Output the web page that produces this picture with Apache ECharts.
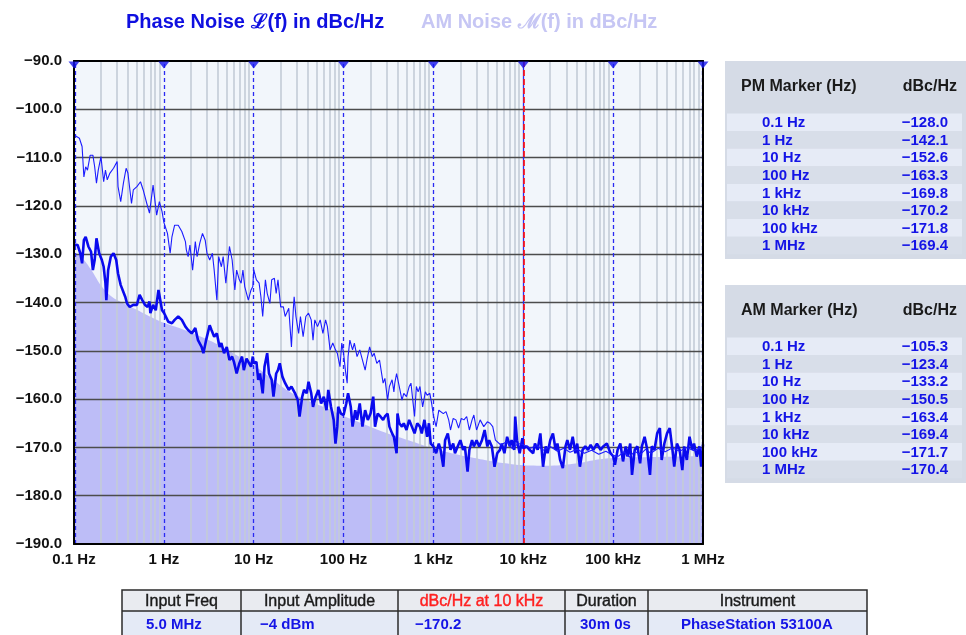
<!DOCTYPE html>
<html>
<head>
<meta charset="utf-8">
<script src="https://cdn.jsdelivr.net/npm/echarts@6/dist/echarts.min.js"></script>
<style>
  html, body { margin: 0; padding: 0; background: #ffffff; }
  #chart { width: 966px; height: 635px; }
</style>
</head>
<body>
<div id="chart"></div>
<script>
// Offset frequency is stored as log10(Hz): -1 = 0.1 Hz ... 6 = 1 MHz.
const decadeLabels = ['0.1 Hz', '1 Hz', '10 Hz', '100 Hz', '1 kHz', '10 kHz', '100 kHz', '1 MHz'];
const markerDecades = [-1, 0, 1, 2, 3, 4, 5, 6];
const highlightDecade = 4;                 // 10 kHz reference marker
const minorSteps = [2, 3, 4, 5, 6, 7, 8, 9];

// Phase noise L(f), dBc/Hz  [log10 f, level]
const pmNoise = [
  [-1.00,-128.0],[-0.96,-128.1],[-0.93,-129.8],[-0.91,-131.9],[-0.89,-127.1],[-0.87,-126.4],[-0.84,-128.4],[-0.81,-129.5],[-0.79,-133.3],[-0.77,-131.2],
  [-0.75,-126.7],[-0.72,-129.8],[-0.69,-131.2],[-0.67,-132.6],[-0.65,-136.0],[-0.64,-139.5],[-0.62,-133.3],[-0.59,-130.5],[-0.56,-129.8],[-0.53,-131.2],
  [-0.51,-134.0],[-0.48,-136.4],[-0.46,-136.7],[-0.43,-138.8],[-0.41,-140.2],[-0.38,-140.9],[-0.34,-140.5],[-0.30,-140.5],[-0.27,-138.4],[-0.24,-139.5],
  [-0.21,-140.5],[-0.18,-140.9],[-0.16,-139.8],[-0.15,-142.2],[-0.12,-140.5],[-0.09,-141.6],[-0.06,-137.4],[-0.04,-137.0],[-0.02,-141.6],[0.00,-142.1],
  [0.05,-144.0],[0.09,-144.3],[0.12,-143.6],[0.16,-142.9],[0.20,-143.6],[0.24,-145.0],[0.27,-145.7],[0.31,-146.4],[0.35,-145.3],[0.38,-147.8],
  [0.42,-149.2],[0.44,-150.5],[0.47,-147.8],[0.51,-144.7],[0.53,-145.7],[0.56,-147.1],[0.59,-146.4],[0.62,-149.2],[0.64,-148.4],[0.67,-150.5],
  [0.70,-149.2],[0.73,-151.9],[0.76,-151.2],[0.78,-152.3],[0.81,-154.7],[0.84,-152.6],[0.87,-151.2],[0.89,-154.0],[0.92,-151.6],[0.94,-151.2],
  [0.97,-153.3],[0.99,-151.2],[1.00,-152.6],[1.03,-152.3],[1.05,-156.0],[1.07,-154.7],[1.10,-158.8],[1.12,-153.3],[1.15,-150.5],[1.17,-154.7],
  [1.20,-156.0],[1.22,-159.5],[1.25,-154.7],[1.27,-154.0],[1.29,-152.6],[1.32,-155.4],[1.35,-156.7],[1.39,-158.1],[1.42,-157.4],[1.46,-158.8],
  [1.49,-160.2],[1.51,-163.6],[1.54,-159.5],[1.56,-158.1],[1.59,-158.8],[1.61,-156.4],[1.64,-158.8],[1.66,-161.6],[1.69,-159.5],[1.72,-158.1],
  [1.75,-160.9],[1.78,-159.5],[1.81,-162.3],[1.83,-158.1],[1.86,-161.6],[1.89,-164.3],[1.91,-169.2],[1.93,-165.7],[1.94,-161.6],[1.97,-163.0],
  [2.00,-163.3],[2.03,-160.9],[2.05,-158.8],[2.08,-161.6],[2.10,-165.7],[2.13,-162.3],[2.15,-164.3],[2.18,-160.9],[2.21,-165.7],[2.24,-162.3],
  [2.27,-164.3],[2.30,-163.0],[2.33,-159.5],[2.35,-165.7],[2.38,-163.0],[2.41,-163.6],[2.44,-164.3],[2.46,-163.6],[2.49,-163.0],[2.51,-165.7],
  [2.54,-167.1],[2.56,-167.8],[2.59,-171.2],[2.60,-163.0],[2.62,-165.0],[2.65,-165.7],[2.67,-165.0],[2.70,-166.4],[2.73,-164.3],[2.76,-165.7],
  [2.79,-167.1],[2.82,-165.0],[2.85,-165.7],[2.87,-167.1],[2.90,-164.3],[2.93,-167.8],[2.95,-165.0],[2.97,-169.2],[3.00,-169.8],[3.03,-171.2],
  [3.06,-169.2],[3.08,-170.5],[3.11,-174.0],[3.13,-168.5],[3.16,-167.1],[3.19,-170.5],[3.22,-169.2],[3.24,-171.2],[3.27,-169.8],[3.30,-168.5],
  [3.33,-170.5],[3.35,-169.8],[3.38,-175.0],[3.40,-170.5],[3.43,-168.5],[3.45,-169.8],[3.48,-168.5],[3.51,-169.8],[3.54,-168.5],[3.57,-166.4],
  [3.60,-169.8],[3.62,-168.5],[3.65,-169.8],[3.68,-174.0],[3.71,-171.2],[3.74,-170.5],[3.76,-169.2],[3.79,-171.2],[3.82,-167.8],[3.85,-169.8],
  [3.87,-168.5],[3.90,-170.5],[3.91,-163.6],[3.93,-168.5],[3.96,-171.2],[3.99,-168.1],[4.00,-170.2],[4.04,-169.8],[4.07,-170.5],[4.11,-171.2],
  [4.13,-169.2],[4.16,-170.5],[4.19,-167.1],[4.22,-174.0],[4.25,-169.8],[4.27,-171.2],[4.30,-168.5],[4.33,-167.1],[4.36,-170.5],[4.38,-169.2],
  [4.41,-172.6],[4.44,-174.3],[4.47,-169.8],[4.49,-168.5],[4.52,-170.5],[4.55,-167.8],[4.58,-171.2],[4.60,-169.2],[4.63,-174.0],[4.66,-170.5],
  [4.69,-169.8],[4.72,-170.5],[4.75,-169.5],[4.78,-170.5],[4.82,-169.2],[4.86,-170.5],[4.89,-169.8],[4.93,-169.2],[4.97,-171.2],[5.00,-171.8],
  [5.02,-173.6],[5.05,-170.5],[5.08,-169.2],[5.11,-172.9],[5.14,-169.8],[5.16,-171.9],[5.19,-169.2],[5.21,-175.7],[5.24,-170.5],[5.27,-169.8],
  [5.30,-173.3],[5.32,-169.8],[5.35,-167.8],[5.38,-170.5],[5.41,-175.7],[5.43,-169.8],[5.46,-170.5],[5.49,-167.1],[5.52,-166.0],[5.54,-172.6],
  [5.57,-169.2],[5.60,-167.1],[5.63,-166.0],[5.66,-170.5],[5.68,-174.0],[5.71,-169.2],[5.74,-170.5],[5.77,-174.7],[5.79,-169.8],[5.82,-172.6],
  [5.85,-167.8],[5.88,-170.5],[5.90,-169.2],[5.93,-171.9],[5.96,-169.8],[5.98,-174.0],[6.00,-169.4]
];

// AM noise M(f), dBc/Hz  [log10 f, level]
const amNoise = [
  [-1.00,-105.3],[-0.94,-106.0],[-0.91,-107.7],[-0.89,-114.0],[-0.87,-111.9],[-0.85,-112.6],[-0.82,-109.5],[-0.79,-109.5],[-0.77,-111.9],[-0.75,-115.3],
  [-0.73,-112.6],[-0.70,-109.8],[-0.67,-115.0],[-0.65,-112.6],[-0.63,-114.6],[-0.60,-113.2],[-0.56,-112.2],[-0.52,-110.8],[-0.51,-116.0],[-0.48,-119.1],
  [-0.45,-115.3],[-0.42,-112.2],[-0.40,-113.2],[-0.36,-119.5],[-0.34,-116.7],[-0.30,-116.0],[-0.26,-115.0],[-0.23,-116.7],[-0.19,-119.5],[-0.16,-121.5],
  [-0.12,-115.7],[-0.10,-118.8],[-0.08,-121.9],[-0.05,-119.1],[-0.02,-121.2],[0.00,-123.4],[0.04,-125.7],[0.07,-129.8],[0.09,-126.4],[0.12,-124.0],
  [0.16,-124.0],[0.20,-125.3],[0.24,-127.4],[0.25,-129.1],[0.27,-130.5],[0.29,-128.1],[0.32,-133.3],[0.35,-127.4],[0.37,-130.5],[0.40,-127.7],
  [0.43,-125.7],[0.46,-127.1],[0.48,-129.8],[0.51,-131.2],[0.54,-129.8],[0.56,-133.3],[0.59,-139.5],[0.61,-130.5],[0.64,-132.6],[0.66,-130.5],
  [0.69,-136.0],[0.73,-128.4],[0.76,-131.2],[0.79,-137.4],[0.81,-133.3],[0.84,-135.3],[0.86,-136.0],[0.88,-133.3],[0.90,-136.7],[0.94,-139.5],
  [0.97,-137.4],[0.99,-136.7],[1.00,-133.2],[1.03,-135.3],[1.06,-136.0],[1.08,-138.8],[1.10,-142.9],[1.13,-135.3],[1.15,-138.1],[1.18,-140.2],
  [1.20,-135.3],[1.23,-135.0],[1.25,-138.1],[1.27,-135.3],[1.30,-140.9],[1.33,-140.9],[1.35,-142.9],[1.39,-141.2],[1.42,-149.2],[1.44,-141.6],
  [1.45,-138.8],[1.47,-142.9],[1.50,-146.4],[1.52,-142.9],[1.55,-147.1],[1.58,-142.9],[1.61,-142.2],[1.64,-143.6],[1.66,-147.8],[1.68,-143.6],
  [1.71,-145.0],[1.74,-143.6],[1.77,-146.4],[1.80,-143.6],[1.82,-145.0],[1.85,-149.8],[1.88,-148.4],[1.91,-149.8],[1.93,-150.5],[1.96,-153.3],
  [1.98,-148.4],[2.00,-150.5],[2.02,-154.0],[2.04,-156.7],[2.05,-151.2],[2.07,-147.8],[2.10,-149.8],[2.12,-148.4],[2.15,-151.2],[2.18,-149.8],
  [2.20,-151.2],[2.24,-154.0],[2.26,-151.9],[2.29,-149.2],[2.32,-151.2],[2.34,-150.5],[2.37,-152.6],[2.40,-151.9],[2.44,-156.7],[2.46,-155.7],
  [2.49,-160.2],[2.51,-157.4],[2.54,-156.0],[2.56,-158.5],[2.57,-156.7],[2.59,-154.7],[2.62,-157.4],[2.65,-160.2],[2.67,-158.8],[2.70,-159.5],
  [2.73,-157.4],[2.75,-156.7],[2.77,-160.2],[2.79,-163.6],[2.81,-157.4],[2.83,-158.5],[2.85,-157.4],[2.88,-161.6],[2.91,-158.5],[2.93,-159.2],
  [2.96,-158.8],[2.98,-160.9],[3.00,-163.4],[3.03,-165.7],[3.06,-162.3],[3.08,-161.9],[3.11,-163.0],[3.14,-162.6],[3.17,-164.3],[3.19,-166.4],
  [3.22,-164.0],[3.25,-164.3],[3.28,-166.0],[3.31,-164.0],[3.34,-164.3],[3.37,-163.6],[3.40,-166.4],[3.43,-164.3],[3.45,-163.3],[3.48,-166.4],
  [3.52,-164.3],[3.56,-165.7],[3.60,-164.7],[3.63,-165.0],[3.66,-165.7],[3.69,-168.5],[3.75,-169.5],[3.82,-168.8],[3.88,-170.3],[3.94,-169.2],
  [4.00,-169.4],[4.08,-170.2],[4.15,-169.6],[4.22,-170.6],[4.30,-169.8],[4.38,-170.8],[4.45,-170.2],[4.52,-171.0],[4.60,-170.4],[4.68,-171.2],
  [4.76,-170.6],[4.84,-171.4],[4.92,-170.8],[5.00,-171.7],[5.06,-171.8],[5.12,-170.9],[5.18,-172.0],[5.24,-170.8],[5.30,-171.5],[5.36,-170.4],
  [5.42,-171.2],[5.50,-170.2],[5.58,-170.9],[5.66,-170.1],[5.74,-170.8],[5.82,-170.0],[5.90,-170.7],[5.96,-170.2],[6.00,-170.4]
];

// Smoothed floor shading under the traces, dBc/Hz  [log10 f, level]
const noiseFloor = [
  [-1.0,-129.5],[-0.9,-131.0],[-0.8,-133.5],[-0.7,-136.5],[-0.6,-138.5],[-0.5,-139.7],[-0.4,-140.6],[-0.3,-141.5],[-0.2,-142.5],[-0.1,-143.4],
  [0.0,-144.2],[0.2,-145.5],[0.4,-147.0],[0.6,-148.7],[0.8,-150.8],[1.0,-153.0],[1.2,-155.8],[1.4,-158.5],[1.6,-160.3],[1.8,-161.8],
  [2.0,-163.5],[2.2,-165.0],[2.4,-166.5],[2.6,-167.8],[2.8,-169.0],[3.0,-170.3],[3.2,-171.2],[3.4,-172.0],[3.6,-172.7],[3.8,-173.3],
  [4.0,-173.7],[4.3,-173.8],[4.6,-173.3],[4.8,-172.6],[5.0,-172.2],[5.5,-172.0],[6.0,-171.8]
];

const markerNames = ['0.1 Hz', '1 Hz', '10 Hz', '100 Hz', '1 kHz', '10 kHz', '100 kHz', '1 MHz'];
const pmMarkerValues = [-128.0, -142.1, -152.6, -163.3, -169.8, -170.2, -171.8, -169.4];
const amMarkerValues = [-105.3, -123.4, -133.2, -150.5, -163.4, -169.4, -171.7, -170.4];

const infoHeaders = ['Input Freq', 'Input Amplitude', 'dBc/Hz at 10 kHz', 'Duration', 'Instrument'];
const infoValues = ['5.0 MHz', '\u22124 dBm', '\u2212170.2', '30m 0s', 'PhaseStation 53100A'];

const FONT = '"Liberation Sans", Arial, Helvetica, sans-serif';
const BLUE = '#1414e6';
const fmtDb = v => (v < 0 ? '\u2212' : '') + Math.abs(v).toFixed(1);

// ---- grid lines drawn as mark lines so they sit above the floor shading ----
const minorLines = [];
for (let d = -1; d < 6; d++) {
  for (const k of minorSteps) minorLines.push({ xAxis: d + Math.log10(k) });
}
const levelLines = [];
for (let v = -180; v <= -100; v += 10) levelLines.push({ yAxis: v });

const markerLines = markerDecades
  .filter(d => d !== highlightDecade && d !== -1 && d !== 6)
  .map(d => ({ xAxis: d }));
markerLines.push({ xAxis: -1 + 0.008 }, { xAxis: 6 - 0.006 });

// ---- side panels and info table ----
function textStyle(size, weight, color, extra) {
  return Object.assign({ fontSize: size, fontWeight: weight, fontFamily: FONT, fill: color }, extra);
}

function markerPanel(top, title, values) {
  const els = [];
  const left = 725, width = 250, height = 198;
  els.push({ type: 'rect', shape: { x: left, y: top, width: width, height: height },
             style: { fill: '#d5dbe6' }, silent: true });
  els.push({ type: 'text', silent: true, style: textStyle(16, 'bold', '#1a1a1a',
             { text: title, x: 741, y: top + 26, verticalAlign: 'middle' }) });
  els.push({ type: 'text', silent: true, style: textStyle(16, 'bold', '#1a1a1a',
             { text: 'dBc/Hz', x: 957, y: top + 26, align: 'right', verticalAlign: 'middle' }) });
  const rowTop = top + 52.5, rowH = 17.6;
  values.forEach((v, i) => {
    const cy = rowTop + i * rowH + rowH / 2 + 0.7;
    els.push({ type: 'rect', shape: { x: 727, y: rowTop + i * rowH, width: 235, height: rowH },
               style: { fill: i % 2 === 0 ? '#e6ebf6' : '#d8dee9' }, silent: true });
    els.push({ type: 'text', silent: true, style: textStyle(15, 'bold', BLUE,
               { text: markerNames[i], x: 762, y: cy, verticalAlign: 'middle' }) });
    els.push({ type: 'text', silent: true, style: textStyle(15, 'bold', BLUE,
               { text: fmtDb(v), x: 948, y: cy, align: 'right', verticalAlign: 'middle' }) });
  });
  return els;
}

function infoTable() {
  const els = [];
  const cols = [122, 241, 398, 565, 648, 867];
  const top = 590, mid = 611, bottom = 640;
  els.push({ type: 'rect', shape: { x: cols[0], y: top, width: cols[5] - cols[0], height: mid - top },
             style: { fill: '#e9ebf0' }, silent: true });
  els.push({ type: 'rect', shape: { x: cols[0], y: mid, width: cols[5] - cols[0], height: bottom - mid },
             style: { fill: '#e4eaf6' }, silent: true });
  const stroke = { stroke: '#2b2b2b', lineWidth: 1.5 };
  els.push({ type: 'rect', shape: { x: cols[0], y: top, width: cols[5] - cols[0], height: bottom - top },
             style: Object.assign({ fill: 'none' }, stroke), silent: true });
  els.push({ type: 'line', shape: { x1: cols[0], y1: mid, x2: cols[5], y2: mid }, style: stroke, silent: true });
  for (let i = 1; i < cols.length - 1; i++) {
    els.push({ type: 'line', shape: { x1: cols[i], y1: top, x2: cols[i], y2: bottom }, style: stroke, silent: true });
  }
  const valueX = [146, 260, 415, 580, 681];
  infoHeaders.forEach((h, i) => {
    const c = i === 2 ? '#ff2020' : '#1a1a1a';
    els.push({ type: 'text', silent: true, style: textStyle(16, 'normal', c,
               { text: h, x: (cols[i] + cols[i + 1]) / 2, y: (top + mid) / 2 + 1,
                 align: 'center', verticalAlign: 'middle', stroke: c, lineWidth: 0.4 }) });
    els.push({ type: 'text', silent: true, style: textStyle(15, 'bold', BLUE,
               { text: infoValues[i], x: valueX[i], y: mid + 14, verticalAlign: 'middle' }) });
  });
  return els;
}

const chart = echarts.init(document.getElementById('chart'), null, { renderer: 'canvas' });

const hidden = { show: false };
const option = {
  animation: false,
  backgroundColor: '#ffffff',
  title: [
    { text: 'Phase Noise \u2112(f) in dBc/Hz', left: 121, top: 7,
      textStyle: { color: '#0f0fe0', fontSize: 20, fontWeight: 'bold', fontFamily: FONT } },
    { text: 'AM Noise \u2133(f) in dBc/Hz', left: 416, top: 7,
      textStyle: { color: '#c6c6f4', fontSize: 20, fontWeight: 'bold', fontFamily: FONT } }
  ],
  grid: { left: 74, right: 263, top: 61, bottom: 91, show: true,
          backgroundColor: '#f2f6fb', borderWidth: 0 },
  xAxis: [
    { type: 'value', min: -1, max: 6, interval: 1, z: 10,
      axisLine: { onZero: false, lineStyle: { color: '#000', width: 2 } },
      axisTick: hidden, splitLine: hidden,
      axisLabel: { color: '#111', fontFamily: FONT, fontSize: 15, fontWeight: 'bold', margin: 8,
                   formatter: v => decadeLabels[Math.round(v) + 1] } },
    { type: 'value', min: -1, max: 6, interval: 1, position: 'top', z: 10,
      axisLine: { onZero: false, lineStyle: { color: '#000', width: 2 } },
      axisTick: hidden, splitLine: hidden, axisLabel: hidden }
  ],
  yAxis: [
    { type: 'value', min: -190, max: -90, interval: 10, z: 10,
      axisLine: { show: true, onZero: false, lineStyle: { color: '#000', width: 2 } },
      axisTick: hidden, splitLine: hidden,
      axisLabel: { color: '#111', fontFamily: FONT, fontSize: 15, fontWeight: 'bold', margin: 12,
                   formatter: v => fmtDb(v) } },
    { type: 'value', min: -190, max: -90, interval: 10, position: 'right', z: 10,
      axisLine: { show: true, onZero: false, lineStyle: { color: '#000', width: 2 } },
      axisTick: hidden, splitLine: hidden, axisLabel: hidden }
  ],
  series: [
    { name: 'floor', type: 'line', data: noiseFloor, smooth: 0.4, showSymbol: false, silent: true, z: 1,
      lineStyle: { width: 0 }, areaStyle: { color: '#bdbdf7', opacity: 1, origin: 'start' } },
    { name: 'grid', type: 'line', data: [], z: 2, silent: true,
      markLine: { silent: true, symbol: ['none', 'none'], label: hidden, animation: false,
        data: [
          ...minorLines.map(m => Object.assign({ lineStyle: { color: '#c3cbd6', width: 1.8, type: 'solid', opacity: 0.9 } }, m)),
          ...levelLines.map(m => Object.assign({ lineStyle: { color: '#4c4c4c', width: 1.3, type: 'solid' } }, m))
        ] } },
    { name: 'markers', type: 'line', data: [], z: 3, silent: true,
      markLine: { silent: true, symbol: ['none', 'none'], label: hidden, animation: false,
        data: [
          ...markerLines.map(m => Object.assign({ lineStyle: { color: '#2a2af2', width: 1.3, type: [4, 3] } }, m)),
          { xAxis: highlightDecade, lineStyle: { color: '#2a2af2', width: 1.3, type: 'solid' } },
          { xAxis: highlightDecade, lineStyle: { color: '#ff1010', width: 1.7, type: [6, 3] } }
        ] } },
    { name: 'Phase Noise', type: 'line', data: pmNoise, showSymbol: false, z: 5, silent: true,
      lineStyle: { color: '#0a0aee', width: 2.6 } },
    { name: 'AM Noise', type: 'line', data: amNoise, showSymbol: false, z: 6, silent: true,
      lineStyle: { color: '#1c1cff', width: 1.1 } },
    { name: 'marker tabs', type: 'scatter', z: 12, zlevel: 1, silent: true, clip: false,
      data: markerDecades.map(d => [d, -90]),
      symbol: 'triangle', symbolRotate: 180, symbolSize: [11, 7], symbolOffset: [0, 4],
      itemStyle: { color: '#1515ee' } }
  ],
  graphic: [
    ...markerPanel(61, 'PM Marker (Hz)', pmMarkerValues),
    ...markerPanel(285, 'AM Marker (Hz)', amMarkerValues),
    ...infoTable()
  ]
};
chart.setOption(option);
</script>
</body>
</html>
